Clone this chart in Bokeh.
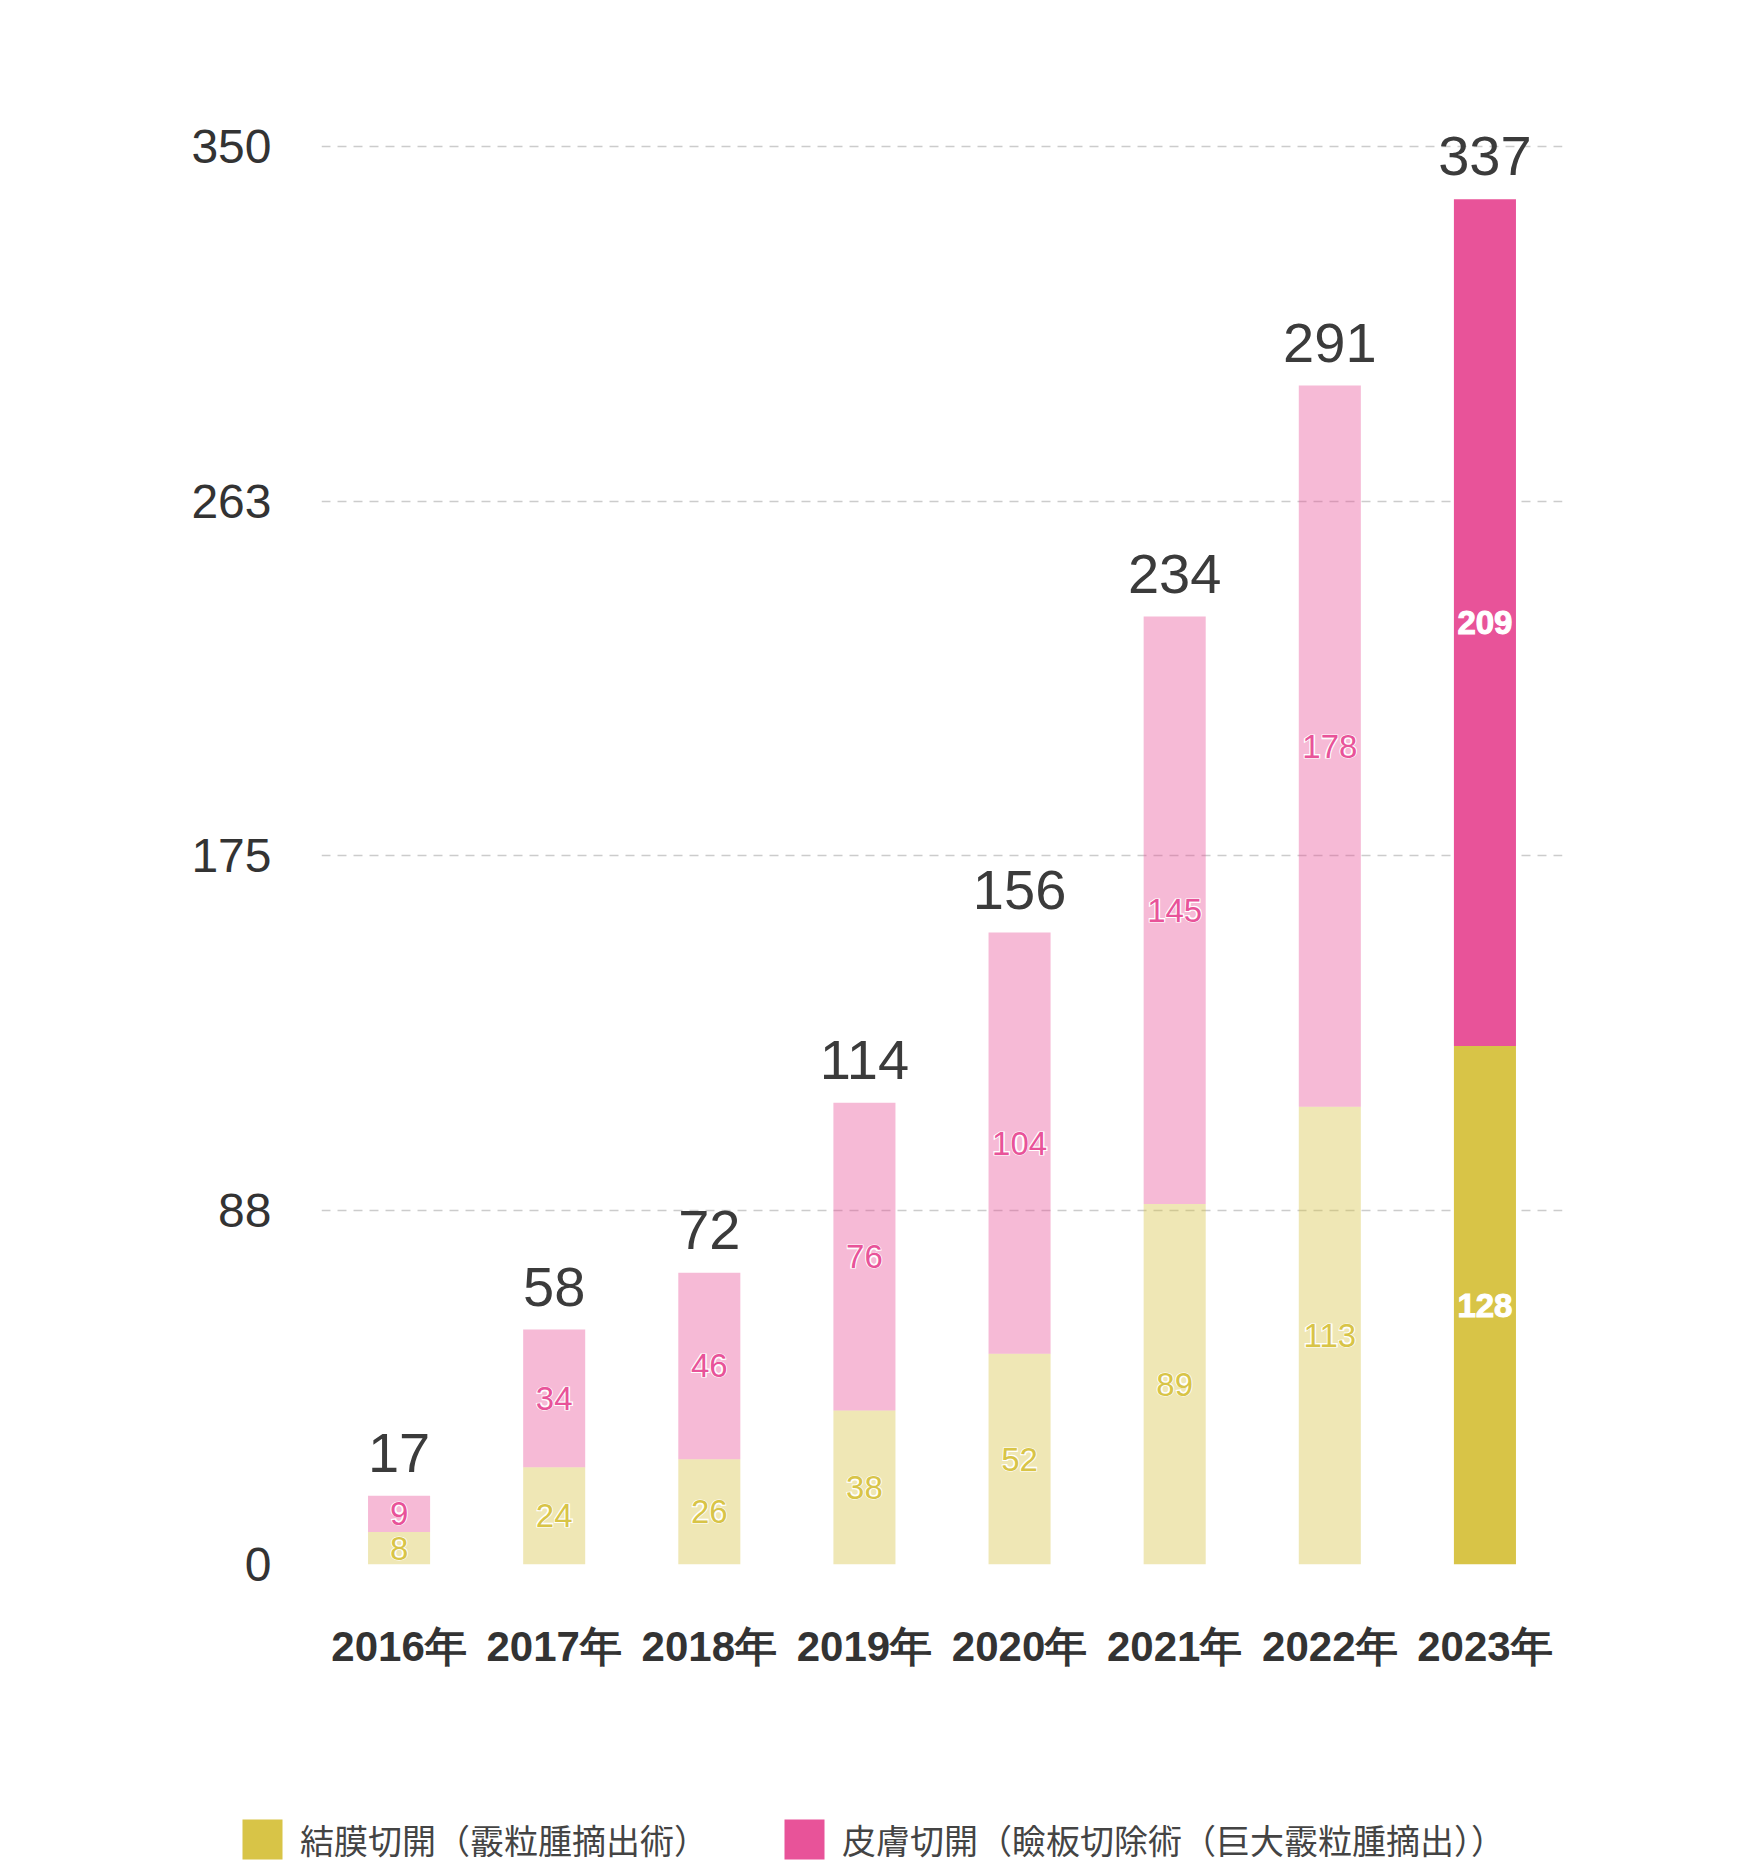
from bokeh.plotting import figure
from bokeh.models import (ColumnDataSource, FactorRange, Range1d, FixedTicker, Legend,
                          LegendItem, LabelSet)
from bokeh.core.properties import value
from bokeh.embed import file_html
from bokeh.resources import INLINE

# ---- data ----
years = ["2016年", "2017年", "2018年", "2019年", "2020年", "2021年", "2022年", "2023年"]
conjunctival = [8, 24, 26, 38, 52, 89, 113, 128]
cutaneous = [9, 34, 46, 76, 104, 145, 178, 209]
totals = [17, 58, 72, 114, 156, 234, 291, 337]
tick_values = [0, 87.5, 175, 262.5, 350]
tick_labels = ["0", "88", "175", "263", "350"]
legend_labels = ["結膜切開（霰粒腫摘出術）", "皮膚切開（瞼板切除術（巨大霰粒腫摘出））"]

# ---- styles ----
YELLOW = "#D8C447"
PINK = "#E85399"
highlight_year = "2023年"
is_hi = [y == highlight_year for y in years]
hi_index = is_hi.index(True)
bar_alpha = [1.0 if h else 0.4 for h in is_hi]
c_tc = ["white" if h else YELLOW for h in is_hi]
s_tc = ["white" if h else PINK for h in is_hi]

src = ColumnDataSource(dict(
    x=years,
    c=conjunctival,
    s=cutaneous,
    total=totals,
    c_mid=[c / 2 for c in conjunctival],
    s_mid=[c + s / 2 for c, s in zip(conjunctival, cutaneous)],
    c_lbl=[str(v) for v in conjunctival],
    s_lbl=[str(v) for v in cutaneous],
    t_lbl=[str(v) for v in totals],
    alpha=bar_alpha,
    c_tc=c_tc,
    s_tc=s_tc,
))

p = figure(
    x_range=FactorRange(*years, range_padding=0),
    y_range=Range1d(0, 371),
    width=1752, height=1790,
    min_border_left=321, min_border_right=190,
    min_border_top=61, min_border_bottom=226,
    output_backend="svg", toolbar_location=None,
    background_fill_color="white", border_fill_color="white",
)
p.outline_line_color = None

r1 = p.vbar(x="x", top="c", bottom=0, width=0.4, fill_color=YELLOW,
            fill_alpha="alpha", line_color=None, source=src)
r2 = p.vbar(x="x", top="total", bottom="c", width=0.4, fill_color=PINK,
            fill_alpha="alpha", line_color=None, source=src)

inner_font = value("Liberation Sans")
for ycol, tcol, lcol in (("c_mid", "c_tc", "c_lbl"), ("s_mid", "s_tc", "s_lbl")):
    # white halo underneath
    p.text(x="x", y=ycol, text=lcol, text_color="white", text_outline_color="white",
           text_align="center", text_baseline="middle", text_font=inner_font,
           text_font_size="33px", text_font_style="bold", source=src)
    p.text(x="x", y=ycol, text=lcol, text_color=tcol,
           text_align="center", text_baseline="middle", text_font=inner_font,
           text_font_size="33px", source=src)

totals_labels = LabelSet(x="x", y="total", text="t_lbl", source=src, y_offset=24,
                         text_align="center", text_baseline="alphabetic",
                         text_font=value("Liberation Sans"), text_font_size="56px",
                         text_color="#3b3b3b")
p.add_layout(totals_labels)

# axes
p.xaxis.axis_line_color = None
p.xaxis.major_tick_line_color = None
p.xaxis.minor_tick_line_color = None
p.xaxis.major_label_standoff = 52
p.xaxis.major_label_text_font = "Liberation Sans"
p.xaxis.major_label_text_font_style = "bold"
p.xaxis.major_label_text_font_size = "42px"
p.xaxis.major_label_text_color = "#333333"

p.yaxis.ticker = FixedTicker(ticks=tick_values)
p.yaxis.major_label_overrides = {v: l for v, l in zip(tick_values, tick_labels)}
p.yaxis.axis_line_color = None
p.yaxis.major_tick_line_color = None
p.yaxis.minor_tick_line_color = None
p.yaxis.major_label_standoff = 44
p.yaxis.major_label_text_font = "Liberation Sans"
p.yaxis.major_label_text_font_size = "48px"
p.yaxis.major_label_text_color = "#333333"

p.xgrid.grid_line_color = None
p.ygrid.grid_line_color = "#cccccc"
p.ygrid.grid_line_dash = "9 7"
p.ygrid.grid_line_width = 1.5

# ---- legend strip (separate root; its proxy bars fall outside its y range) ----
p2 = figure(
    x_range=FactorRange(*years, range_padding=0),
    y_range=Range1d(1000, 1001),
    width=1752, height=80, min_border=0,
    min_border_left=0, min_border_right=0, min_border_top=0, min_border_bottom=0,
    x_axis_location=None, y_axis_location=None,
    output_backend="svg", toolbar_location=None,
    background_fill_color="white", border_fill_color="white",
)
p2.outline_line_color = None
p2.grid.visible = False
l1 = p2.vbar(x="x", top="c", bottom=0, width=0.4, fill_color=YELLOW,
             fill_alpha="alpha", line_color=None, source=src)
l2 = p2.vbar(x="x", top="total", bottom="c", width=0.4, fill_color=PINK,
             fill_alpha="alpha", line_color=None, source=src)

legend = Legend(
    items=[LegendItem(label=legend_labels[0], renderers=[l1], index=hi_index),
           LegendItem(label=legend_labels[1], renderers=[l2], index=hi_index)],
    orientation="horizontal", location=(237, 6),
    glyph_width=50, glyph_height=50, label_standoff=13, spacing=71,
    padding=0, margin=0, border_line_color=None, background_fill_alpha=0,
    label_text_font="Noto Sans CJK JP", label_text_font_size="34px",
    label_text_color="#444444", label_height=50,
)
p2.add_layout(legend, "center")

open("out.html", "w").write(file_html([p, p2], INLINE))
